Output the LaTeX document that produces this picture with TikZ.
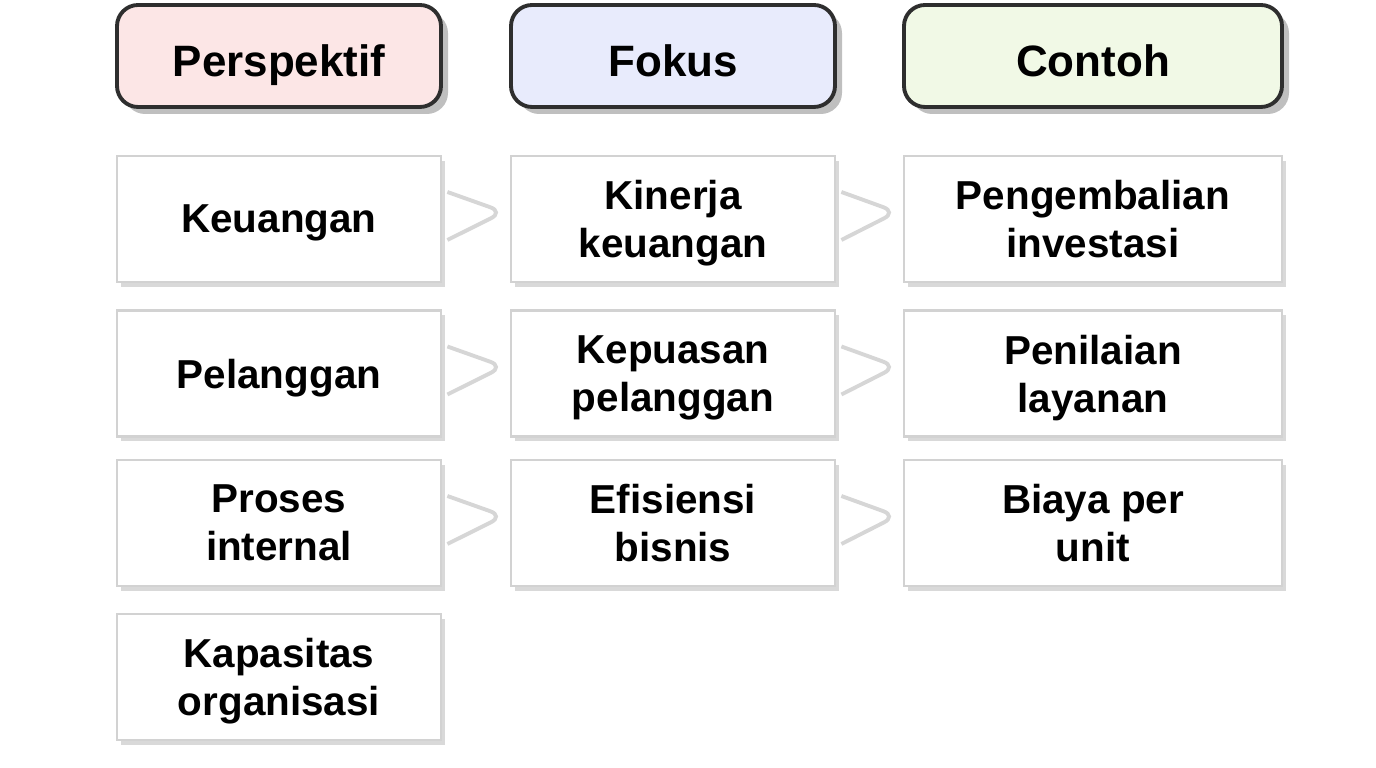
\documentclass[tikz,border=0pt]{standalone}
\usepackage{fontspec}
\setmainfont{Liberation Sans}
\usepackage{tikz}
\usetikzlibrary{shadows}
\definecolor{bscpink}{HTML}{FCE6E6}
\definecolor{bscblue}{HTML}{E8EBFC}
\definecolor{bscgreen}{HTML}{F1F9E6}
\definecolor{bscedge}{HTML}{2E2E2E}

\begin{document}
\begin{tikzpicture}[
  head/.style={
    draw=bscedge, line width=1.1pt, rounded corners=6pt,
    minimum height=1.02cm, align=center,
    text height=11.5pt, text depth=0pt,
    font=\fontsize{12.5}{15}\selectfont\bfseries,
    drop shadow={shadow xshift=0.07cm, shadow yshift=-0.07cm, fill=black, opacity=0.25}
  },
  cell/.style={
    draw=gray!35, fill=white, line width=0.8pt,
    minimum height=1.26cm, align=center, text depth=0pt,
    font=\fontsize{11.5}{13.7}\selectfont\bfseries,
    drop shadow={shadow xshift=0.04cm, shadow yshift=-0.05cm, fill=black, opacity=0.15}
  },
  link/.style={draw=gray!32, line width=1.1pt, rounded corners=4pt},
]

% canvas
\useasboundingbox[fill=white] (0,0) rectangle (13.76,7.68);

% Header row
\node[head, fill=bscpink, minimum width=3.24cm] (hper) at (2.79, 7.12) {Perspektif};
\node[head, fill=bscblue, minimum width=3.24cm] (hfok) at (6.73, 7.12) {Fokus};
\node[head, fill=bscgreen, minimum width=3.78cm] (hcon) at (10.93, 7.12) {Contoh};

% Perspektif column
\node[cell, minimum width=3.24cm] (p1) at (2.79, 5.49) {Keuangan};
\node[cell, minimum width=3.24cm] (p2) at (2.79, 3.945) {Pelanggan};
\node[cell, minimum width=3.24cm] (p3) at (2.79, 2.45) {Proses\\internal};
\node[cell, minimum width=3.24cm] (p4) at (2.79, 0.91) {Kapasitas\\organisasi};

% Fokus column
\node[cell, minimum width=3.24cm] (f1) at (6.73, 5.49) {Kinerja\\keuangan};
\node[cell, minimum width=3.24cm] (f2) at (6.73, 3.945) {Kepuasan\\pelanggan};
\node[cell, minimum width=3.24cm] (f3) at (6.73, 2.45) {Efisiensi\\bisnis};

% Contoh column
\node[cell, minimum width=3.78cm] (c1) at (10.93, 5.49) {Pengembalian\\investasi};
\node[cell, minimum width=3.78cm] (c2) at (10.93, 3.945) {Penilaian\\layanan};
\node[cell, minimum width=3.78cm] (c3) at (10.93, 2.45) {Biaya per\\unit};

% Links between columns
\foreach \a/\b in {p1/f1, p2/f2, p3/f3, f1/c1, f2/c2, f3/c3}
  \draw[link] ([xshift=0.05cm, yshift=0.27cm]\a.east)
    -- ([xshift=-0.06cm, yshift=0.07cm]\b.west)
    -- ([xshift=0.05cm, yshift=-0.21cm]\a.east);

\end{tikzpicture}
\end{document}
